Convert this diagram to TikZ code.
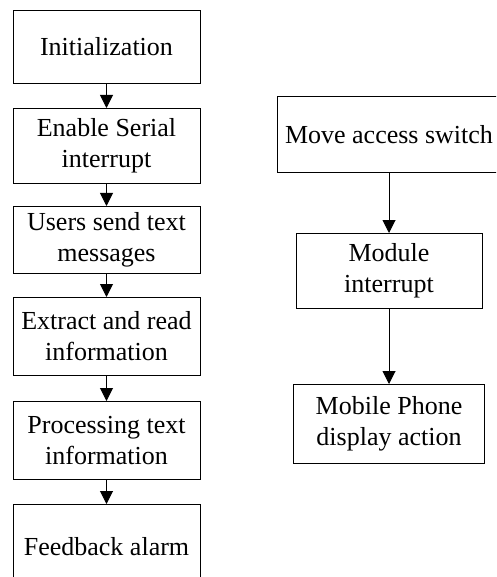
\documentclass[tikz,border=0pt]{standalone}
\usepackage{fontspec}
\setmainfont{Liberation Serif}
\usetikzlibrary{arrows.meta, positioning}

\begin{document}
\begin{tikzpicture}[
      >={Triangle[width=13pt, length=13pt]},
      node distance=24pt,
      stepbox/.style={draw, line width=1pt, minimum width=187pt, inner sep=2pt, align=center, font=\fontsize{26pt}{31pt}\selectfont},
      flow/.style={->, line width=1pt}
    ]

    \useasboundingbox (0,0) rectangle (496pt,-577pt);
    \clip (0,0) rectangle (496pt,-577pt);

    % main loop on the left
    \node[stepbox, minimum height=73pt, anchor=north] (init) at (106.5pt,-10pt) {Initialization};
    \node[stepbox, minimum height=75pt, below=of init] (serial) {Enable Serial\\interrupt};
    \node[stepbox, minimum height=67pt, below=22pt of serial] (sms) {Users send text\\messages};
    \node[stepbox, minimum height=78pt, below=23pt of sms] (extract) {Extract and read\\information};
    \node[stepbox, minimum height=78pt, below=25pt of extract] (process) {Processing text\\information};
    \node[stepbox, minimum height=84pt, below=of process] (alarm) {Feedback alarm};

    % switch branch on the right
    \node[stepbox, minimum width=224pt, minimum height=76pt, anchor=north] (switch) at (389pt,-96pt) {Move access switch};
    \node[stepbox, minimum width=186pt, minimum height=75pt, below=60pt of switch] (module) {Module\\interrupt};
    \node[stepbox, minimum width=191pt, minimum height=79pt, below=75pt of module] (phone) {Mobile Phone\\display action};

    \draw[flow] (init) -- (serial);
    \draw[flow] (serial) -- (sms);
    \draw[flow] (sms) -- (extract);
    \draw[flow] (extract) -- (process);
    \draw[flow] (process) -- (alarm);

    \draw[flow] (switch) -- (module);
    \draw[flow] (module) -- (phone);

  \end{tikzpicture}
\end{document}
